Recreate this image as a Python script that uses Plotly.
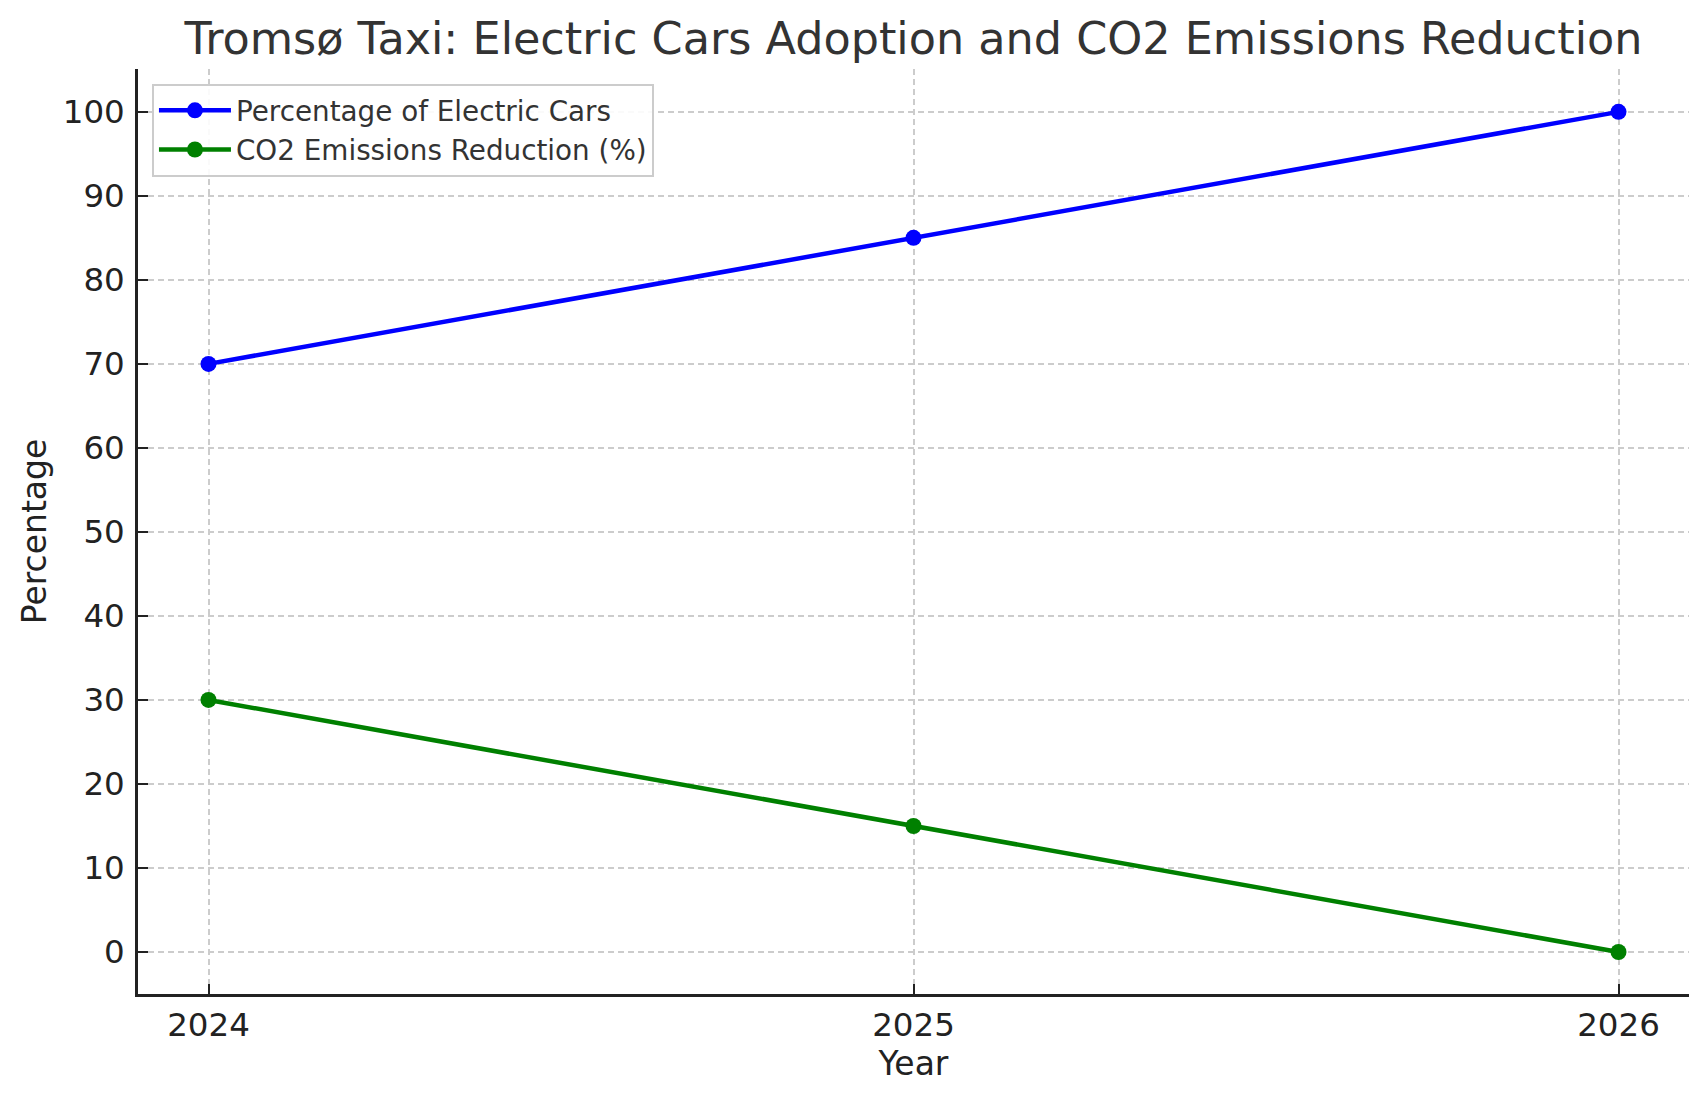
import plotly.graph_objects as go

years = [2024, 2025, 2026]
electric_pct = [70, 85, 100]
co2_reduction = [30, 15, 0]
y_ticks = [0, 10, 20, 30, 40, 50, 60, 70, 80, 90, 100]

FONT = "DejaVu Sans"

fig = go.Figure()
fig.add_trace(go.Scatter(
    x=years, y=electric_pct, mode="lines+markers",
    name="Percentage of Electric Cars",
    line=dict(color="#0000ff", width=4.5),
    marker=dict(color="#0000ff", size=16),
))
fig.add_trace(go.Scatter(
    x=years, y=co2_reduction, mode="lines+markers",
    name="CO2 Emissions Reduction (%)",
    line=dict(color="#008000", width=4.5),
    marker=dict(color="#008000", size=16),
))

fig.update_layout(
    width=1707, height=1101,
    margin=dict(l=138, r=18, t=69, b=107),
    paper_bgcolor="white", plot_bgcolor="white",
    font=dict(family=FONT, color="#222222", size=32),
    title=dict(
        text="Tromsø Taxi: Electric Cars Adoption and CO2 Emissions Reduction",
        x=0.5, xref="paper", xanchor="center",
        y=1 - 38 / 1101, yref="container", yanchor="middle",
        font=dict(family=FONT, size=44.5, color="#333333"),
    ),
    showlegend=True,
    legend=dict(
        x=0.009, y=0.984, xanchor="left", yanchor="top",
        bgcolor="rgba(255,255,255,0.9)",
        bordercolor="#cccccc", borderwidth=2,
        font=dict(family=FONT, size=27.8, color="#333333"),
        itemwidth=72,
        tracegroupgap=4,
    ),
    xaxis=dict(
        title=dict(text="Year", font=dict(family=FONT, size=33, color="#222222"), standoff=10),
        range=[2023.9, 2026.1],
        tickmode="array", tickvals=years, ticktext=[str(y) for y in years],
        tickfont=dict(family=FONT, size=32.5, color="#222222"),
        showline=True, linecolor="#222222", linewidth=2.5,
        ticks="inside", ticklen=10, tickwidth=2, tickcolor="#222222",
        showgrid=True, gridcolor="#cccccc", gridwidth=1.5, griddash="6px,4px",
        zeroline=False, mirror=False,
    ),
    yaxis=dict(
        title=dict(text="Percentage", font=dict(family=FONT, size=33, color="#222222"), standoff=7),
        range=[-5, 105.1],
        tickmode="array", tickvals=y_ticks,
        tickfont=dict(family=FONT, size=32.5, color="#222222"),
        showline=True, linecolor="#222222", linewidth=2.5,
        ticks="inside", ticklen=10, tickwidth=2, tickcolor="#222222",
        showgrid=True, gridcolor="#cccccc", gridwidth=1.5, griddash="6px,4px",
        zeroline=False, mirror=False,
        ticklabelstandoff=4,
    ),
)

fig.write_html("out.html")
